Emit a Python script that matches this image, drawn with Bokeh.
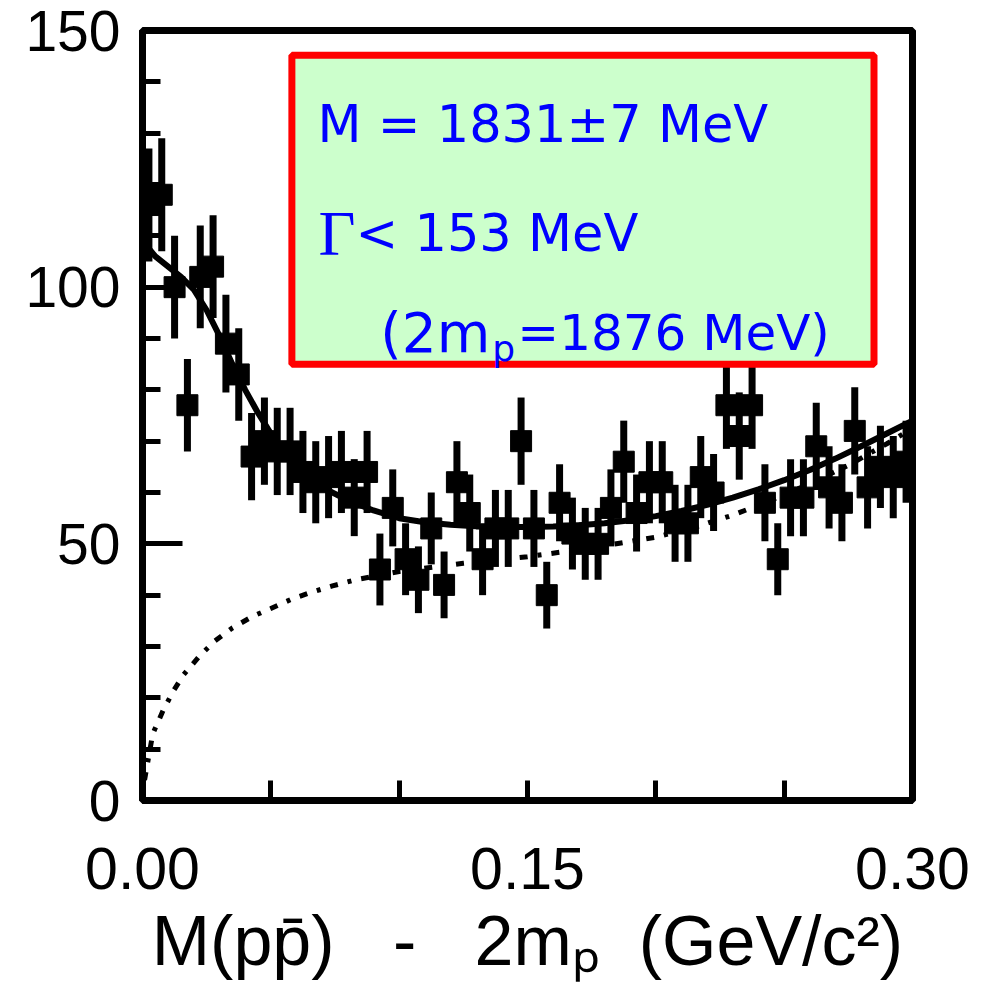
from bokeh.plotting import figure
from bokeh.models import Range1d, FixedTicker, BoxAnnotation, Label, ColumnDataSource, NumeralTickFormatter
from bokeh.embed import file_html
from bokeh.resources import INLINE

# ---- data ----
bin_start = 0.0
bin_width = 0.005
counts = [116, 118, 100, 77, 102, 104, 89, 83, 67, 70,
          68, 68, 64, 62, 63, 64, 59, 64, 45, 57,
          47, 43, 53, 42, 62, 56, 47, 53, 53, 70,
          53, 40, 58, 52, 50, 50, 57, 66, 56, 62,
          62, 54, 54, 63, 60, 77, 71, 77, 58, 47,
          59, 59, 69, 61, 58, 72, 61, 65, 63, 66]
errors = [11, 11, 10, 9, 10, 10, 9.5, 9, 8.5, 8.5,
          8.5, 8.5, 8, 8, 8, 8, 7.5, 8, 7, 7.5,
          7, 6.5, 7, 6.5, 8, 7.5, 7, 7.5, 7.5, 8.5,
          7.5, 6.5, 7.5, 7, 7, 7, 7.5, 8, 7.5, 8,
          8, 7.5, 7.5, 8, 7.5, 8.5, 8.5, 8.5, 7.5, 7,
          7.5, 7.5, 8.5, 8, 7.5, 8.5, 8, 8, 8, 8]

fit_x = [0.000, 0.005, 0.010, 0.015, 0.020, 0.025, 0.030, 0.035, 0.040, 0.045,
         0.050, 0.055, 0.060, 0.070, 0.080, 0.090, 0.100, 0.110, 0.120, 0.130,
         0.140, 0.150, 0.160, 0.170, 0.180, 0.190, 0.200, 0.210, 0.220, 0.230,
         0.240, 0.250, 0.260, 0.270, 0.280, 0.290, 0.300]
fit_y = [109, 106, 104, 102, 99.5, 95.5, 90.5, 85, 80, 75.5,
         71.5, 68, 65, 61, 58.5, 56.5, 55, 54.2, 53.7, 53.4,
         53.3, 53.3, 53.4, 53.6, 54, 54.6, 55.4, 56.4, 57.6, 59,
         60.6, 62.4, 64.4, 66.6, 69, 71.5, 74]

bg_x = [0.0008, 0.004, 0.008, 0.012, 0.016, 0.022, 0.028, 0.035, 0.043, 0.050,
        0.058, 0.066, 0.074, 0.083, 0.100, 0.125, 0.150, 0.175, 0.200, 0.215,
        0.230, 0.245, 0.260, 0.275, 0.290, 0.300]
bg_y = [4, 13, 17.5, 21.3, 24.5, 28, 31, 33.6, 35.9, 37.4,
        39.2, 40.6, 41.8, 43, 44.6, 46.2, 47.5, 49.2, 51.3, 53.2,
        55.6, 58.5, 61.7, 65.3, 69.5, 72.5]

x_major = [0.0, 0.15, 0.30]
x_minor = [0.05, 0.10, 0.20, 0.25]
y_major = [0, 50, 100, 150]
y_minor = [10, 20, 30, 40, 60, 70, 80, 90, 110, 120, 130, 140]

# ---- figure ----
p = figure(width=994, height=1007, output_backend="svg", toolbar_location=None,
           x_range=Range1d(0, 0.30), y_range=Range1d(0, 150),
           min_border_left=142, min_border_right=82, min_border_top=30, min_border_bottom=207)
p.grid.visible = False
p.outline_line_color = "black"
p.outline_line_width = 7
p.background_fill_color = "white"
p.border_fill_color = "white"

xa = p.xaxis[0]
xa.ticker = FixedTicker(ticks=x_major, minor_ticks=x_minor)
xa.formatter = NumeralTickFormatter(format="0.00")
xa.major_tick_in = 20
xa.major_tick_out = 0
xa.minor_tick_in = 20
xa.minor_tick_out = 0
xa.major_tick_line_width = 5
xa.minor_tick_line_width = 5
xa.axis_line_width = 7
xa.major_label_text_font = "Liberation Sans"
xa.major_label_text_font_size = "59px"
xa.major_label_text_color = "black"
xa.major_label_standoff = 47
nb = "\u00a0"
xa.axis_label = ("M(pp\u0304)" + nb * 3 + "-" + nb * 3 + "2m\u209a" + nb * 2 + "(GeV/c\u00b2)")
xa.axis_label_text_font = "Liberation Sans"
xa.axis_label_text_font_size = "70px"
xa.axis_label_text_font_style = "normal"
xa.axis_label_text_color = "black"
xa.axis_label_standoff = 10

ya = p.yaxis[0]
ya.ticker = FixedTicker(ticks=y_major, minor_ticks=y_minor)
ya.major_tick_in = 40
ya.major_tick_out = 0
ya.minor_tick_in = 18
ya.minor_tick_out = 0
ya.major_tick_line_width = 5
ya.minor_tick_line_width = 5
ya.axis_line_width = 7
ya.major_label_text_font = "Liberation Sans"
ya.major_label_text_font_size = "57px"
ya.major_label_text_color = "black"
ya.major_label_standoff = 22

# ---- data marks ----
xc = [bin_start + bin_width * (i + 0.5) for i in range(len(counts))]
src = ColumnDataSource(dict(x=xc, y=counts,
                            lo=[c - e for c, e in zip(counts, errors)],
                            hi=[c + e for c, e in zip(counts, errors)]))

p.line(bg_x, bg_y, line_width=5, line_color="black", line_dash="8 10 4 10")
p.line(fit_x, fit_y, line_width=6, line_color="black")
p.segment(x0="x", y0="lo", x1="x", y1="hi", line_width=7, line_color="black", source=src)
p.scatter("x", "y", marker="square", size=21, fill_color="black", line_color="black", source=src)

# ---- text box ----
box = BoxAnnotation(left=0.0582, right=0.285, bottom=85.0, top=145.2,
                    fill_color="#ccffcc", fill_alpha=1.0,
                    line_color="#ff0000", line_alpha=1.0, line_width=7)
p.add_layout(box)

blue = "#0000ff"
tf = "DejaVu Sans"
p.add_layout(Label(x=0.0682, y=131.7, text="M = 1831\u00b17 MeV", text_font=tf,
                   text_font_size="51px", text_color=blue, text_baseline="alphabetic"))
p.add_layout(Label(x=0.0686, y=110.4, text="\u0393", text_font="Liberation Serif",
                   text_font_size="64px", text_color=blue, text_baseline="alphabetic"))
p.add_layout(Label(x=0.0830, y=110.4, text="< 153 MeV", text_font=tf,
                   text_font_size="51px", text_color=blue, text_baseline="alphabetic"))
p.add_layout(Label(x=0.1355, y=91.0, text="(2m", text_font=tf, text_align="right",
                   text_font_size="55px", text_color=blue, text_baseline="alphabetic"))
p.add_layout(Label(x=0.1363, y=88.0, text="p", text_font=tf,
                   text_font_size="36px", text_color=blue, text_baseline="alphabetic"))
p.add_layout(Label(x=0.1460, y=91.0, text="=1876 MeV)", text_font=tf,
                   text_font_size="50px", text_color=blue, text_baseline="alphabetic"))

open("out.html", "w").write(file_html(p, INLINE))
